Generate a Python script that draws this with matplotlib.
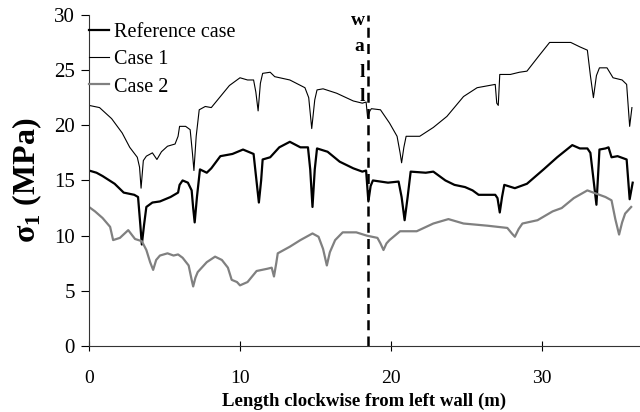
import numpy as np
import matplotlib
matplotlib.use("Agg")
import matplotlib.pyplot as plt

plt.rcParams["font.family"] = ["Liberation Serif", "DejaVu Serif"]
plt.rcParams["mathtext.fontset"] = "custom"
plt.rcParams["mathtext.rm"] = "Liberation Serif"
plt.rcParams["mathtext.bf"] = "Liberation Serif:bold"

# reference case (thick black)
ref_x = [0, 0.5, 0.9, 1.7, 2.3, 3.0, 3.25, 3.4, 3.5, 3.65, 3.8, 4.2, 4.7, 5.4, 5.9, 6.0,
         6.2, 6.55, 6.8, 6.9, 7.0, 7.15, 7.35, 7.8, 8.1, 8.7, 9.5, 10.2, 10.9, 11.05, 11.25,
         11.4, 11.5, 12.0, 12.6, 13.3, 14.0, 14.5, 14.65, 14.8, 14.95, 15.1, 15.8, 16.6,
         17.5, 18.1, 18.35, 18.5, 18.65, 18.8, 19.8, 20.5, 20.7, 20.9, 21.1, 21.3, 22.3,
         22.8, 23.6, 24.2, 24.9, 25.4, 25.8, 26.9, 27.05, 27.2, 27.35, 27.5, 28.2, 29.0,
         30.1, 31.0, 32.0, 32.5, 33.0, 33.2, 33.6, 33.75, 33.8, 34.2, 34.4, 34.6, 35.0,
         35.4, 35.6, 35.8, 36.0]
ref_y = [15.9, 15.7, 15.4, 14.7, 13.9, 13.7, 13.5, 11.0, 9.2, 11.0, 12.6, 13.0, 13.1, 13.5,
         13.9, 14.6, 15.0, 14.8, 14.1, 12.5, 11.2, 13.5, 16.0, 15.7, 16.1, 17.2, 17.4, 17.8,
         17.4, 15.5, 13.0, 15.0, 16.9, 17.1, 18.0, 18.5, 18.0, 18.0, 16.0, 12.6, 16.0, 17.9,
         17.6, 16.7, 16.1, 15.8, 15.9, 13.1, 14.5, 15.0, 14.8, 14.9, 13.5, 11.4, 13.5, 15.8,
         15.7, 15.8, 15.0, 14.6, 14.4, 14.1, 13.7, 13.7, 13.4, 12.1, 13.5, 14.6, 14.3, 14.7,
         16.0, 17.1, 18.2, 17.9, 17.9, 17.5, 12.8, 16.5, 17.8, 17.9, 18.0, 17.1, 17.2, 17.0,
         16.9, 13.3, 14.8]

# case 1 (thin black)
c1_x = [0, 0.7, 1.5, 2.2, 2.7, 3.2, 3.35, 3.45, 3.6, 3.8, 4.2, 4.5, 4.8, 5.2, 5.7, 5.9,
        6.0, 6.4, 6.7, 6.85, 6.95, 7.1, 7.3, 7.7, 8.1, 8.7, 9.3, 10.0, 10.5, 10.9, 11.05,
        11.2, 11.35, 11.5, 12.0, 12.3, 13.3, 14.3, 14.55, 14.75, 14.95, 15.1, 15.5, 16.4,
        17.5, 18.1, 18.35, 18.45, 18.6, 18.7, 19.3, 19.9, 20.4, 20.6, 20.7, 20.85, 21.0,
        21.9, 22.8, 23.7, 24.8, 25.7, 26.9, 27.0, 27.1, 27.2, 27.9, 28.5, 29.0, 29.8, 30.5,
        31.9, 32.5, 33.0, 33.2, 33.4, 33.6, 33.8, 34.3, 34.7, 35.3, 35.6, 35.8, 35.95]
c1_y = [21.8, 21.6, 20.6, 19.3, 18.0, 17.1, 16.2, 14.3, 16.8, 17.2, 17.5, 16.9, 17.6, 18.1,
        18.3, 19.0, 19.9, 19.9, 19.6, 17.5, 15.9, 19.0, 21.4, 21.7, 21.6, 22.6, 23.6, 24.3,
        24.1, 24.1, 23.0, 21.3, 23.8, 24.7, 24.8, 24.4, 24.1, 23.4, 22.5, 19.7, 22.3, 23.2,
        23.3, 22.9, 22.2, 22.0, 22.1, 20.7, 21.3, 21.5, 21.4, 20.2, 19.0, 17.5, 16.6, 18.0,
        19.0, 19.0, 19.8, 20.8, 22.6, 23.4, 23.7, 22.0, 21.8, 24.6, 24.6, 24.8, 24.9, 26.3,
        27.5, 27.5, 27.1, 26.8, 24.5, 22.5, 24.5, 25.2, 25.2, 24.3, 24.1, 23.7, 19.9, 21.6]

# case 2 (grey)
c2_x = [0, 0.4, 0.9, 1.4, 1.6, 2.05, 2.6, 3.05, 3.5, 3.8, 4.05, 4.25, 4.45, 4.7, 5.2, 5.6,
        5.9, 6.2, 6.6, 6.8, 6.9, 7.05, 7.2, 7.8, 8.35, 8.8, 9.2, 9.45, 9.8, 10.0, 10.5, 11.1,
        11.8, 12.1, 12.25, 12.4, 12.5, 13.3, 14.0, 14.8, 15.2, 15.5, 15.75, 15.95, 16.3,
        16.8, 17.7, 18.4, 19.1, 19.3, 19.5, 19.7, 19.9, 20.6, 21.7, 22.8, 23.8, 24.8, 26.4,
        27.7, 28.0, 28.2, 28.45, 28.7, 29.7, 30.7, 31.3, 32.1, 33.0, 33.6, 34.2, 34.6,
        34.85, 35.1, 35.3, 35.5, 35.9]
c2_y = [12.6, 12.2, 11.6, 10.8, 9.6, 9.8, 10.5, 9.7, 9.5, 8.7, 7.6, 6.9, 7.8, 8.2, 8.4, 8.2,
        8.3, 8.0, 7.3, 6.0, 5.4, 6.2, 6.7, 7.6, 8.1, 7.8, 7.1, 6.0, 5.8, 5.5, 5.8, 6.8, 7.0,
        7.1, 6.3, 7.5, 8.4, 9.0, 9.6, 10.2, 9.9, 8.8, 7.3, 8.5, 9.6, 10.3, 10.3, 10.0, 9.8,
        9.3, 8.7, 9.3, 9.6, 10.4, 10.4, 11.1, 11.5, 11.1, 10.9, 10.7, 10.2, 9.9, 10.6, 11.1,
        11.4, 12.2, 12.5, 13.4, 14.1, 13.8, 13.5, 13.2, 11.5, 10.1, 11.2, 12.0, 12.6]

wall_x = 18.5
wall_letters = ["w", "a", "l", "l"]
wall_letter_y = [29.5, 27.1, 24.8, 22.6]

fig = plt.figure(figsize=(6.4, 4.12), dpi=100)
ax = fig.add_axes([0.139, 0.160, 0.859, 0.804])

ax.plot(ref_x, ref_y, color="black", lw=1.6, label="Reference case")
ax.plot(c1_x, c1_y, color="black", lw=0.8, label="Case 1")
ax.plot(c2_x, c2_y, color="#808080", lw=1.6, label="Case 2")

ax.plot([wall_x, wall_x], [0, 30], color="black", lw=1.8, ls=(0, (4, 2.5)))
for ch, yy in zip(wall_letters, wall_letter_y):
    ax.text(wall_x - 0.25, yy, ch, ha="right", va="center", fontsize=14, fontweight="bold")

ax.set_xlim(0, 36.4)
ax.set_ylim(0, 30)
ax.set_xticks([0, 10, 20, 30])
ax.set_yticks([0, 5, 10, 15, 20, 25, 30])
ax.spines["top"].set_visible(False)
ax.spines["right"].set_visible(False)
for s in ["left", "bottom"]:
    ax.spines[s].set_color("#333333")
ax.tick_params(axis="y", direction="out", length=6, labelsize=15, pad=4)
ax.tick_params(axis="x", direction="inout", length=7, labelsize=14, pad=14)

ax.set_xlabel("Length clockwise from left wall (m)", fontsize=13.5, fontweight="bold", labelpad=4)
ax.set_ylabel(r"σ$_{\mathbf{1}}$ (MPa)", fontsize=23, fontweight="bold", labelpad=7)

ax.legend(loc="upper left", bbox_to_anchor=(0.0, 0.975), frameon=False, fontsize=14.5,
          handlelength=1.0, handletextpad=0.25, borderpad=0, borderaxespad=0,
          labelspacing=0.4)

fig.savefig("out.png", dpi=100)
